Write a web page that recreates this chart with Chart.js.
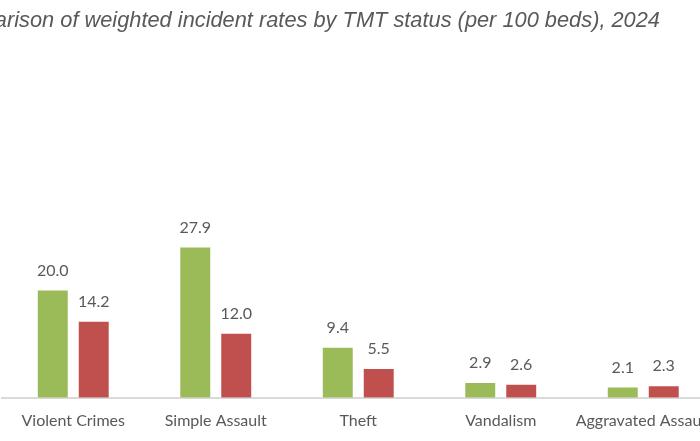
<!DOCTYPE html>
<html>
<head>
<meta charset="utf-8">
<script src="https://cdn.jsdelivr.net/npm/chart.js@4.4.1/dist/chart.umd.min.js"></script>
<style>
  html, body { margin: 0; padding: 0; background: #fff; overflow: hidden; width: 700px; height: 441px; }
  #wrap { position: absolute; left: -144px; top: 0; width: 900px; height: 443px; }
  #titulo { position: absolute; right: 40px; top: 7px; white-space: nowrap; font: italic 21.8px 'Liberation Sans', Arial, sans-serif; color: #595959; }
</style>
</head>
<body>
<div id="wrap"><canvas id="grafico_tmt"></canvas></div>
<div id="titulo">Comparison of weighted incident rates by TMT status (per 100 beds), 2024</div>
<script>
// Dados
const categorias = ['Violent Crimes', 'Simple Assault', 'Theft', 'Vandalism', 'Aggravated Assault'];
const valoresTmt = [20.0, 27.9, 9.4, 2.9, 2.1];
const valoresSemTmt = [14.2, 12.0, 5.5, 2.6, 2.3];

// Rótulos em cima das barras
const rotulosBarras = {
    id: 'rotulosBarras',
    afterDatasetsDraw(chart) {
        const ctx = chart.ctx;
        ctx.save();
        ctx.font = '16px Lato';
        ctx.fillStyle = '#595959';
        ctx.textAlign = 'center';
        ctx.textBaseline = 'bottom';
        chart.data.datasets.forEach((ds, i) => {
            chart.getDatasetMeta(i).data.forEach((bar, j) => {
                ctx.fillText(ds.data[j].toFixed(1), bar.x, bar.y - 11);
            });
        });
        ctx.restore();
    }
};

function generateChartTmt() {
    const ctx = document.getElementById('grafico_tmt').getContext('2d');
    new Chart(ctx, {
        type: 'bar',
        data: {
            labels: categorias,
            datasets: [{
                label: 'TMT',
                data: valoresTmt,
                backgroundColor: '#9BBB59',
                borderColor: '#ffffff',
                borderWidth: 1,
                barPercentage: 0.78,
                categoryPercentage: 0.575
            }, {
                label: 'Non-TMT',
                data: valoresSemTmt,
                backgroundColor: '#C0504D',
                borderColor: '#ffffff',
                borderWidth: 1,
                barPercentage: 0.78,
                categoryPercentage: 0.575
            }]
        },
        options: {
            responsive: true,
            maintainAspectRatio: false,
            animation: false,
            layout: { padding: { left: 146, right: 41.5, top: 181, bottom: 0 } },
            plugins: {
                legend: { display: false },
                tooltip: { enabled: false },
                title: { display: false }
            },
            scales: {
                x: {
                    grid: { display: false, drawTicks: false },
                    border: { color: '#d9d9d9', width: 2 },
                    ticks: { color: '#595959', font: { family: 'Lato', size: 16 }, padding: 13, maxRotation: 0, autoSkip: false }
                },
                y: { display: false, min: 0, max: 40 }
            }
        },
        plugins: [rotulosBarras]
    });
}

generateChartTmt();
</script>
</body>
</html>
